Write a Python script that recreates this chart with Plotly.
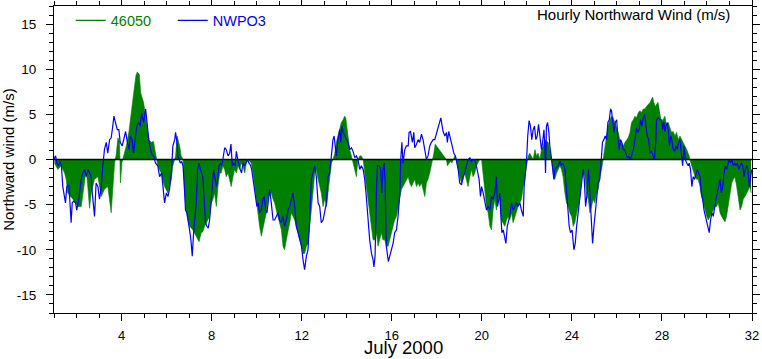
import plotly.graph_objects as go

# Hourly northward wind (m/s), July 2000. x = day of month (fractional).
wind_46050 = [
(1.02,-0.4),(1.17,-1.1),(1.32,-0.7),(1.47,-1.5),(1.54,-2.2),(1.61,-3.7),(1.84,-4.4),(2.06,-5.2),(2.21,-5.2),(2.28,-3.7),
(2.36,-1.9),(2.43,-1.1),(2.50,-3.0),(2.58,-5.4),(2.65,-3.7),(2.80,-2.2),(2.95,-1.9),(3.10,-4.1),(3.24,-3.3),(3.39,-3.0),
(3.54,-5.9),(3.61,-3.0),(3.69,-0.4),(3.76,0.5),(3.84,2.4),(3.91,2.0),(3.95,-2.6),(4.02,-0.3),(4.09,0.3),(4.21,1.5),
(4.33,3.1),(4.44,5.6),(4.54,7.4),(4.64,9.3),(4.70,9.7),(4.79,9.4),(4.85,7.4),(4.98,6.3),(5.10,4.1),(5.21,2.2),
(5.32,1.9),(5.42,2.0),(5.51,0.7),(5.57,0.0),(5.61,-0.7),(5.76,-1.5),(5.91,-3.0),(6.06,-3.7),(6.21,-2.2),(6.28,-0.7),
(6.40,0.4),(6.47,2.6),(6.58,1.5),(6.65,0.4),(6.73,0.0),(6.80,-3.7),(6.87,-5.6),(6.95,-6.7),(7.02,-7.4),(7.17,-7.8),
(7.32,-8.5),(7.44,-9.1),(7.54,-8.1),(7.61,-8.0),(7.69,-7.4),(7.76,-7.0),(7.84,-6.7),(7.91,-6.3),(7.99,-4.8),(8.06,-4.4),
(8.13,-3.7),(8.21,-5.2),(8.28,-3.0),(8.36,-1.5),(8.43,-1.5),(8.50,-0.7),(8.58,-1.1),(8.65,-1.9),(8.73,-1.5),(8.80,-2.2),
(8.87,-3.0),(8.95,-1.9),(9.02,-1.1),(9.10,-1.5),(9.17,-0.7),(9.24,-1.1),(9.32,-0.4),(9.39,-0.7),(9.47,-1.5),(9.54,-0.4),
(9.61,0.0),(9.69,-0.2),(9.76,-0.4),(9.84,-1.5),(9.91,-3.0),(9.99,-4.4),(10.06,-5.9),(10.13,-7.4),(10.21,-8.5),(10.28,-7.8),
(10.36,-6.7),(10.43,-5.9),(10.50,-4.4),(10.58,-3.7),(10.65,-3.7),(10.73,-4.4),(10.80,-4.8),(10.87,-5.6),(10.95,-6.3),(11.02,-7.0),
(11.10,-7.8),(11.17,-9.6),(11.24,-10.0),(11.32,-8.9),(11.39,-8.1),(11.47,-7.0),(11.54,-5.9),(11.61,-6.3),(11.69,-6.7),(11.76,-7.4),
(11.84,-8.1),(11.91,-8.9),(11.99,-9.6),(12.06,-10.4),(12.13,-10.4),(12.21,-9.6),(12.28,-9.3),(12.36,-7.4),(12.43,-5.9),(12.50,-3.7),
(12.58,-1.5),(12.65,-1.1),(12.73,-2.2),(12.80,-3.0),(12.87,-3.7),(12.95,-5.2),(13.02,-4.4),(13.10,-5.2),(13.17,-3.7),(13.24,-1.5),
(13.32,-0.4),(13.39,0.0),(13.47,0.7),(13.54,1.9),(13.61,2.6),(13.69,3.3),(13.76,4.1),(13.84,4.4),(13.91,4.8),(13.96,4.6),
(14.01,3.7),(14.07,2.2),(14.13,1.1),(14.21,0.4),(14.28,-0.4),(14.36,-1.1),(14.43,-1.9),(14.50,0.0),(14.58,0.4),(14.65,0.4),
(14.73,0.0),(14.80,-1.5),(14.87,-3.0),(14.95,-4.4),(15.02,-5.9),(15.10,-7.4),(15.17,-8.9),(15.25,-8.9),(15.32,-8.1),(15.39,-9.6),
(15.47,-8.9),(15.54,-8.1),(15.61,-8.9),(15.69,-8.9),(15.76,-9.6),(15.84,-9.6),(15.91,-8.9),(15.99,-8.1),(16.06,-7.4),(16.13,-6.7),
(16.21,-6.3),(16.28,-5.2),(16.36,-4.1),(16.43,-3.3),(16.50,-3.0),(16.58,-2.6),(16.65,-2.2),(16.73,-1.9),(16.80,-2.6),(16.87,-3.0),
(16.95,-2.6),(17.02,-2.2),(17.10,-3.0),(17.17,-2.6),(17.24,-3.0),(17.32,-2.6),(17.39,-3.3),(17.47,-4.1),(17.54,-2.6),(17.61,-2.2),
(17.69,-1.5),(17.76,-0.7),(17.81,0.0),(17.87,0.7),(17.93,1.7),(17.99,1.5),(18.06,1.3),(18.13,1.1),(18.21,0.7),(18.28,0.6),
(18.36,0.2),(18.43,0.0),(18.47,-0.7),(18.55,-0.4),(18.61,-0.2),(18.67,-0.4),(18.73,0.0),(18.80,0.4),(18.87,0.0),(18.95,-1.1),
(19.02,-1.9),(19.10,-2.6),(19.17,-2.2),(19.24,-1.5),(19.32,-2.2),(19.39,-3.0),(19.47,-1.9),(19.54,-1.1),(19.61,-1.9),(19.69,-1.5),
(19.76,-0.7),(19.84,-0.4),(19.91,0.0),(19.99,0.0),(20.06,-1.5),(20.13,-3.7),(20.21,-5.2),(20.28,-5.9),(20.36,-7.4),(20.43,-7.8),
(20.50,-5.6),(20.58,-4.4),(20.65,-5.6),(20.73,-4.1),(20.80,-4.4),(20.87,-6.7),(20.95,-7.0),(21.02,-7.4),(21.10,-6.7),(21.17,-6.3),
(21.24,-6.7),(21.32,-5.9),(21.39,-7.0),(21.47,-6.3),(21.54,-5.6),(21.61,-5.2),(21.69,-4.8),(21.76,-4.4),(21.84,-3.0),(21.91,-2.2),
(21.99,-0.7),(22.06,0.4),(22.13,0.7),(22.21,0.4),(22.28,0.0),(22.36,1.1),(22.43,0.4),(22.50,0.7),(22.58,0.0),(22.65,1.1),
(22.73,1.5),(22.80,2.2),(22.87,2.0),(22.95,1.9),(23.02,1.1),(23.10,0.0),(23.17,-1.5),(23.24,-2.2),(23.32,-1.5),(23.39,-1.1),
(23.47,-0.7),(23.54,-1.1),(23.61,-1.9),(23.69,-3.7),(23.76,-4.8),(23.84,-5.2),(23.91,-5.9),(23.99,-6.3),(24.06,-7.4),(24.13,-7.0),
(24.21,-5.9),(24.28,-5.2),(24.36,-4.1),(24.43,-2.2),(24.50,-1.1),(24.58,-1.9),(24.65,-3.7),(24.73,-4.4),(24.80,-5.9),(24.87,-5.2),
(24.95,-4.4),(25.02,-4.8),(25.10,-3.7),(25.17,-3.3),(25.24,-1.9),(25.32,-1.1),(25.39,0.0),(25.47,1.1),(25.54,2.2),(25.61,3.7),
(25.69,4.4),(25.76,4.8),(25.84,4.6),(25.91,4.1),(25.99,3.7),(26.06,3.0),(26.13,2.2),(26.21,1.9),(26.28,1.5),(26.36,1.9),
(26.43,2.2),(26.50,2.4),(26.58,3.0),(26.65,4.1),(26.73,4.4),(26.80,4.8),(26.87,4.6),(26.95,5.2),(27.02,5.4),(27.10,5.2),
(27.17,5.6),(27.24,5.6),(27.32,5.9),(27.39,6.1),(27.47,6.3),(27.54,6.7),(27.59,6.9),(27.64,6.3),(27.70,5.9),(27.74,None),
(27.80,6.3),(27.84,6.3),(27.89,None),(27.99,4.1),(28.06,4.4),(28.13,4.8),(28.21,3.7),(28.28,4.1),(28.36,3.5),(28.43,3.0),
(28.50,3.1),(28.58,2.6),(28.65,3.0),(28.73,2.2),(28.80,2.6),(28.87,2.2),(28.95,1.9),(29.02,1.5),(29.10,1.1),(29.17,0.7),
(29.21,0.4),(29.24,0.0),(29.32,-0.7),(29.39,-1.5),(29.47,-1.9),(29.54,-2.2),(29.61,-2.2),(29.69,-3.0),(29.76,-4.1),(29.84,-4.8),
(29.91,-5.6),(29.99,-6.3),(30.06,-6.7),(30.13,-6.3),(30.21,-5.9),(30.28,-5.6),(30.36,-5.2),(30.43,-5.2),(30.50,-4.8),(30.58,-5.9),
(30.65,-6.3),(30.73,-6.7),(30.80,-6.9),(30.87,-6.3),(30.95,-4.8),(31.02,-3.7),(31.10,-2.6),(31.17,-2.2),(31.24,-1.9),(31.32,-3.0),
(31.39,-4.4),(31.47,-5.6),(31.54,-5.2),(31.61,-4.4),(31.69,-4.1),(31.76,-3.7),(31.84,-3.3),(31.91,-3.0),(31.96,-3.7),
]

wind_nwpo3 = [
(0.99,0.0),(1.07,0.4),(1.13,-0.4),(1.21,-0.7),(1.27,-0.2),(1.33,-0.7),(1.39,-3.0),(1.47,-4.1),(1.51,-4.8),(1.57,-3.0),
(1.66,-2.8),(1.72,-5.2),(1.76,-7.0),(1.81,-4.8),(1.87,-4.6),(1.96,-4.8),(2.01,-5.6),(2.10,-4.4),(2.21,-2.2),(2.28,-1.5),
(2.36,-1.1),(2.43,-1.9),(2.50,-1.1),(2.58,-1.5),(2.65,-1.9),(2.70,-3.7),(2.76,-5.6),(2.80,-6.3),(2.87,-2.6),(2.95,-3.0),
(3.02,-4.4),(3.10,-3.0),(3.17,-0.7),(3.24,1.1),(3.32,1.9),(3.39,0.7),(3.47,2.2),(3.54,2.4),(3.61,3.7),(3.66,4.8),
(3.73,4.1),(3.81,3.3),(3.88,3.3),(3.94,1.9),(4.03,1.5),(4.09,2.2),(4.18,3.1),(4.24,2.2),(4.33,1.1),(4.39,2.6),
(4.47,2.2),(4.53,0.7),(4.62,2.6),(4.68,3.7),(4.77,4.1),(4.83,3.7),(4.89,5.2),(4.98,4.1),(5.07,5.6),(5.13,3.7),
(5.21,2.2),(5.32,0.7),(5.42,0.4),(5.51,-0.4),(5.61,-0.7),(5.69,-1.9),(5.78,-1.5),(5.84,-3.0),(5.91,-4.8),(5.99,-3.7),
(6.06,-4.1),(6.13,-3.3),(6.21,-1.5),(6.28,1.5),(6.36,2.2),(6.40,3.0),(6.46,1.9),(6.50,0.4),(6.55,0.0),(6.61,-0.4),
(6.67,-0.2),(6.73,-0.7),(6.79,-3.0),(6.84,-5.6),(6.90,-5.9),(6.96,-6.7),(7.02,-7.8),(7.08,-8.9),(7.14,-10.7),(7.20,-8.1),
(7.26,-5.9),(7.32,-4.8),(7.38,-1.1),(7.44,-0.4),(7.50,-1.1),(7.56,-1.5),(7.61,-1.9),(7.67,-4.4),(7.73,-7.0),(7.79,-7.4),
(7.85,-7.6),(7.91,-6.7),(7.97,-5.2),(8.03,-3.0),(8.09,-1.1),(8.15,-1.9),(8.21,-3.0),(8.27,-2.2),(8.33,-0.7),(8.38,-0.4),
(8.44,-0.7),(8.50,0.0),(8.58,1.3),(8.65,1.1),(8.73,0.4),(8.80,0.7),(8.86,1.7),(8.92,-0.7),(8.98,-0.4),(9.04,-0.7),
(9.10,0.9),(9.16,0.0),(9.21,-0.7),(9.27,-1.1),(9.33,-1.5),(9.39,-0.4),(9.47,-0.7),(9.54,-0.2),(9.60,0.0),(9.66,-0.4),
(9.72,-0.6),(9.78,-1.1),(9.84,-2.2),(9.91,-3.7),(9.96,-4.8),(10.01,-5.2),(10.07,-4.8),(10.13,-5.9),(10.21,-5.6),(10.28,-4.4),
(10.34,-4.1),(10.40,-5.6),(10.46,-5.9),(10.52,-4.1),(10.58,-3.3),(10.65,-4.8),(10.73,-6.7),(10.80,-6.7),(10.87,-6.3),(10.95,-5.9),
(11.02,-6.7),(11.10,-7.0),(11.17,-6.3),(11.24,-7.4),(11.32,-6.7),(11.39,-5.6),(11.47,-5.2),(11.54,-4.4),(11.61,-3.7),(11.69,-5.2),
(11.76,-7.4),(11.84,-8.1),(11.91,-8.9),(11.99,-9.6),(12.06,-11.1),(12.13,-12.2),(12.21,-10.7),(12.28,-10.0),(12.36,-6.3),(12.43,-2.2),
(12.50,-1.5),(12.58,-0.7),(12.65,-1.9),(12.73,-4.8),(12.80,-5.2),(12.87,-7.0),(12.95,-6.7),(13.02,-5.9),(13.10,-4.8),(13.17,-1.9),
(13.24,-1.5),(13.32,0.4),(13.39,2.2),(13.44,2.6),(13.50,1.1),(13.54,0.4),(13.61,2.2),(13.69,3.3),(13.73,1.9),(13.79,3.7),
(13.84,3.0),(13.91,2.6),(13.99,2.2),(14.06,1.9),(14.13,1.1),(14.21,1.3),(14.28,0.9),(14.36,0.2),(14.43,0.4),(14.50,0.0),
(14.58,-1.1),(14.65,-0.7),(14.73,-1.1),(14.80,-2.2),(14.87,-4.1),(14.95,-7.0),(15.02,-8.9),(15.10,-10.4),(15.17,-11.1),(15.21,-11.9),
(15.26,-10.7),(15.32,-3.7),(15.36,-0.7),(15.44,-0.7),(15.51,-1.1),(15.56,-3.7),(15.61,-1.1),(15.66,-0.4),(15.70,-2.2),(15.76,-9.6),
(15.81,-10.4),(15.85,-11.3),(15.91,-10.7),(15.99,-10.0),(16.06,-9.3),(16.13,-8.1),(16.21,-7.8),(16.28,-6.3),(16.36,-3.7),(16.40,0.0),
(16.45,1.9),(16.50,-0.4),(16.58,1.1),(16.65,1.5),(16.73,1.5),(16.77,3.0),(16.83,3.1),(16.87,2.6),(16.92,1.9),(16.98,3.0),
(17.02,1.3),(17.10,1.7),(17.17,2.2),(17.24,1.9),(17.32,2.8),(17.39,2.2),(17.47,0.7),(17.54,0.0),(17.61,0.4),(17.69,1.5),
(17.76,1.9),(17.84,2.2),(17.91,2.2),(17.99,3.0),(18.06,3.7),(18.13,4.1),(18.18,4.6),(18.24,3.7),(18.28,3.1),(18.36,2.6),
(18.43,3.0),(18.47,1.9),(18.53,3.1),(18.58,2.6),(18.65,1.9),(18.73,1.1),(18.77,0.6),(18.83,0.4),(18.87,0.0),(18.95,-1.1),
(19.02,-2.6),(19.10,-2.8),(19.17,-1.9),(19.24,-1.5),(19.32,-0.7),(19.39,0.0),(19.47,0.2),(19.54,-0.2),(19.61,0.0),(19.69,0.0),
(19.76,-0.7),(19.84,-1.5),(19.88,-2.2),(19.94,-4.1),(19.99,-3.0),(20.06,-3.7),(20.13,-4.8),(20.21,-5.6),(20.28,-5.2),(20.36,-5.6),
(20.43,-4.1),(20.50,-4.4),(20.58,-3.7),(20.65,-1.9),(20.70,-5.2),(20.76,-4.1),(20.80,-3.7),(20.84,-5.9),(20.89,-8.1),(20.95,-7.8),
(21.01,-8.5),(21.07,-9.3),(21.13,-7.4),(21.19,-6.7),(21.24,-6.3),(21.32,-4.8),(21.39,-5.6),(21.47,-5.2),(21.54,-4.8),(21.61,-5.2),
(21.69,-4.8),(21.76,-5.6),(21.84,-6.3),(21.88,-3.0),(21.94,-1.5),(21.99,0.0),(22.04,2.6),(22.10,4.3),(22.16,3.7),(22.22,2.2),
(22.28,3.3),(22.34,3.7),(22.40,2.2),(22.46,2.6),(22.52,3.9),(22.58,2.6),(22.65,1.1),(22.70,1.9),(22.76,3.3),(22.80,1.5),
(22.83,-1.5),(22.87,3.7),(22.92,4.1),(22.98,3.0),(23.02,1.5),(23.10,0.0),(23.14,-0.7),(23.20,-2.2),(23.24,-1.1),(23.32,-0.9),
(23.39,-0.7),(23.47,-0.2),(23.54,-0.7),(23.61,-0.4),(23.69,-1.1),(23.76,-3.3),(23.84,-5.6),(23.88,-7.4),(23.94,-8.1),(24.01,-7.8),
(24.09,-10.0),(24.15,-9.3),(24.21,-7.4),(24.28,-5.9),(24.36,-4.8),(24.43,-3.0),(24.50,-1.1),(24.55,-2.2),(24.61,-5.2),(24.68,-3.7),
(24.74,-1.1),(24.80,-3.7),(24.86,-6.3),(24.92,-9.3),(24.98,-7.4),(25.04,-5.9),(25.10,-3.7),(25.17,-2.6),(25.24,-2.2),(25.30,0.0),
(25.36,1.9),(25.42,2.2),(25.48,2.6),(25.54,2.2),(25.60,4.1),(25.66,4.4),(25.72,5.6),(25.76,5.4),(25.82,3.7),(25.87,3.0),
(25.93,4.1),(25.99,4.4),(26.04,2.6),(26.10,1.1),(26.16,2.2),(26.22,1.9),(26.28,1.1),(26.34,1.1),(26.40,0.7),(26.46,0.2),
(26.52,0.4),(26.58,0.0),(26.65,0.4),(26.73,1.1),(26.80,2.2),(26.87,3.5),(26.93,3.0),(26.99,3.3),(27.05,4.4),(27.11,3.7),
(27.17,4.6),(27.23,5.0),(27.29,3.7),(27.35,2.6),(27.41,2.2),(27.47,0.7),(27.54,0.9),(27.61,0.4),(27.67,0.0),(27.73,2.2),
(27.76,4.4),(27.84,4.6),(27.91,4.4),(27.99,4.4),(28.03,3.3),(28.09,4.1),(28.13,3.1),(28.18,3.7),(28.24,4.1),(28.28,3.3),
(28.33,1.5),(28.39,2.6),(28.44,2.2),(28.50,1.1),(28.56,0.9),(28.62,1.5),(28.68,1.1),(28.74,1.9),(28.80,2.2),(28.86,0.7),
(28.92,-0.7),(28.98,1.5),(29.04,0.0),(29.10,-0.4),(29.17,-0.7),(29.21,-0.4),(29.27,-1.1),(29.33,-3.0),(29.39,-1.9),(29.45,-2.2),
(29.51,-1.5),(29.57,-1.1),(29.63,-1.5),(29.69,-1.9),(29.75,-3.7),(29.81,-4.4),(29.87,-5.6),(29.93,-6.3),(29.99,-7.0),(30.04,-7.4),
(30.10,-8.1),(30.16,-6.7),(30.22,-5.9),(30.28,-6.3),(30.34,-5.2),(30.40,-4.4),(30.46,-3.7),(30.52,-3.0),(30.58,-2.2),(30.64,-3.7),
(30.70,-3.0),(30.76,-1.5),(30.82,-0.7),(30.87,-1.1),(30.93,-0.4),(30.99,0.0),(31.05,-0.4),(31.11,0.0),(31.17,-0.7),(31.23,-0.4),
(31.29,-0.7),(31.35,-0.4),(31.41,-1.1),(31.47,-0.7),(31.53,-0.4),(31.59,-0.7),(31.64,-1.9),(31.70,-1.1),(31.76,-0.7),(31.82,-1.1),
(31.88,-3.0),(31.94,-1.9),(31.99,-1.1),
]

series_names = ["46050", "NWPO3"]
x_ticks = [4, 8, 12, 16, 20, 24, 28, 32]
y_ticks = [-15, -10, -5, 0, 5, 10, 15]
x_range = [1, 32]
y_range = [-17, 17]

GREEN = "rgb(0,128,0)"
BLUE = "rgb(0,0,255)"
FONT = "Liberation Sans, Arial, Helvetica, sans-serif"

g_day = [d for d, _ in wind_46050]
g_val = [v for _, v in wind_46050]
b_day = [d for d, _ in wind_nwpo3]
b_val = [v for _, v in wind_nwpo3]

fig = go.Figure()
fig.add_trace(go.Scatter(x=g_day, y=g_val, mode="lines", fill="tozeroy",
                         fillcolor=GREEN, line=dict(color=GREEN, width=0.6),
                         connectgaps=False, showlegend=False, hoverinfo="skip"))
fig.add_trace(go.Scatter(x=x_range, y=[0, 0], mode="lines",
                         line=dict(color="black", width=1.5), showlegend=False, hoverinfo="skip"))
fig.add_trace(go.Scatter(x=b_day, y=b_val, mode="lines",
                         line=dict(color=BLUE, width=1.2), showlegend=False))
# legend entries (line samples only)
fig.add_trace(go.Scatter(x=[None], y=[None], mode="lines", line=dict(color=GREEN, width=1.2),
                         name=f'<span style="color:{GREEN}">{series_names[0]}</span>'))
fig.add_trace(go.Scatter(x=[None], y=[None], mode="lines", line=dict(color=BLUE, width=1.2),
                         name=f'<span style="color:{BLUE}">{series_names[1]}</span>'))

axis_common = dict(showline=True, linecolor="black", linewidth=1, mirror="allticks",
                   ticks="outside", ticklen=7, tickwidth=1, tickcolor="black",
                   showgrid=False, zeroline=False, automargin=False)

fig.update_xaxes(range=x_range, tickvals=x_ticks, ticktext=[str(t) for t in x_ticks],
                 tickfont=dict(size=13, family=FONT, color="black"), ticklabelstandoff=3,
                 minor=dict(dtick=1, tick0=0, ticks="outside", ticklen=4, tickcolor="black", tickwidth=1, showgrid=False),
                 **axis_common)
fig.update_yaxes(range=y_range, tickvals=y_ticks, ticktext=[str(t) for t in y_ticks],
                 tickfont=dict(size=13.5, family=FONT, color="black"), ticklabelstandoff=7,
                 minor=dict(dtick=1, tick0=0, ticks="outside", ticklen=4, tickcolor="black", tickwidth=1, showgrid=False),
                 title=dict(text="Northward wind (m/s)", font=dict(size=15, family=FONT, color="black"), standoff=1),
                 **axis_common)

fig.update_layout(
    width=762, height=359,
    margin=dict(l=54, r=10, t=6, b=46, autoexpand=False),
    plot_bgcolor="white", paper_bgcolor="white",
    font=dict(family=FONT, color="black"),
    showlegend=True,
    legend=dict(orientation="h", x=0.024, y=1.005, xanchor="left", yanchor="top",
                bgcolor="rgba(0,0,0,0)", font=dict(size=14.5, family=FONT),
                entrywidth=57, entrywidthmode="pixels", traceorder="normal"),
    annotations=[
        dict(text="Hourly Northward Wind (m/s)", xref="paper", yref="paper",
             x=0.971, y=0.9735, xanchor="right", yanchor="middle", showarrow=False,
             font=dict(size=15, family=FONT, color="black")),
        dict(text="July 2000", xref="paper", yref="paper",
             x=0.5, y=-0.114, xanchor="center", yanchor="middle", showarrow=False,
             font=dict(size=18.5, family=FONT, color="black")),
    ],
)

fig.write_html("out.html", config={"displayModeBar": False},
               post_script="document.body.style.margin='0';document.body.style.padding='0';document.body.style.overflow='hidden';")
